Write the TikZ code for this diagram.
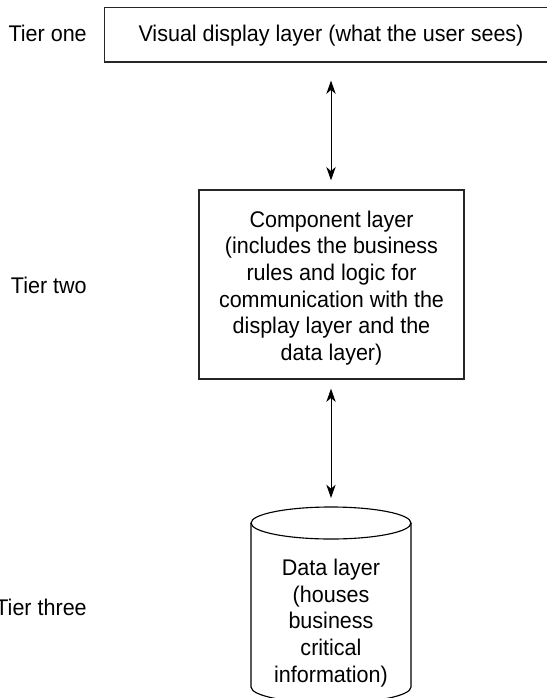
\documentclass[tikz,border=0pt]{standalone}
\usepackage{fontspec}
\setmainfont[FakeStretch=0.95]{Liberation Sans}
\usetikzlibrary{arrows.meta}
\tikzset{
  tier/.style={anchor=east,font=\fontsize{17pt}{20pt}\selectfont,inner sep=0pt},
  lay/.style={draw=black!85,line width=0.95pt,inner sep=0pt},
  plain/.style={align=center,font=\fontsize{17pt}{20pt}\selectfont,inner sep=0pt},
  cyl/.style={draw=black,line width=0.85pt},
  link/.style={line width=0.75pt,{Stealth[length=10pt,width=7pt,inset=3pt]}-{Stealth[length=10pt,width=7pt,inset=3pt]}}
}
\begin{document}
\begin{tikzpicture}[x=0.75pt,y=-0.75pt]
\useasboundingbox (0,0) rectangle (546,698);
\node[tier] (t1) at (87,33) {Tier one};
\node[tier] (t2) at (87,285) {Tier two};
\node[tier] (t3) at (87,607) {Tier three};
\node[lay,minimum width=339.75pt,minimum height=41pt] (a) at (331,34.6) {};
\node[plain] (at) at (331,36) {Visual display layer (what the user sees)};
\node[lay,minimum width=198.75pt,minimum height=141.75pt] (b) at (331.5,284.5) {};
\node[plain] (bt) at (331.5,288) {Component layer\\(includes the business\\rules and logic for\\communication with the\\display layer and the\\data layer)};
\coordinate (ctop) at (331,507);
\draw[cyl] (251,523) -- (251,687) arc[start angle=180,end angle=0,x radius=80,y radius=16] -- (411,523);
\draw[cyl] (331,523) ellipse [x radius=80,y radius=16];
\node[plain] (c) at (331,623) {Data layer\\(houses\\business\\critical\\information)};
\draw[link,shorten <=13.5pt,shorten >=6.75pt] (a.south -| at.south) -- (at.south |- b.north);
\draw[link,shorten <=6.75pt,shorten >=6.75pt] (b.south -| ctop) -- (ctop);
\end{tikzpicture}
\end{document}
